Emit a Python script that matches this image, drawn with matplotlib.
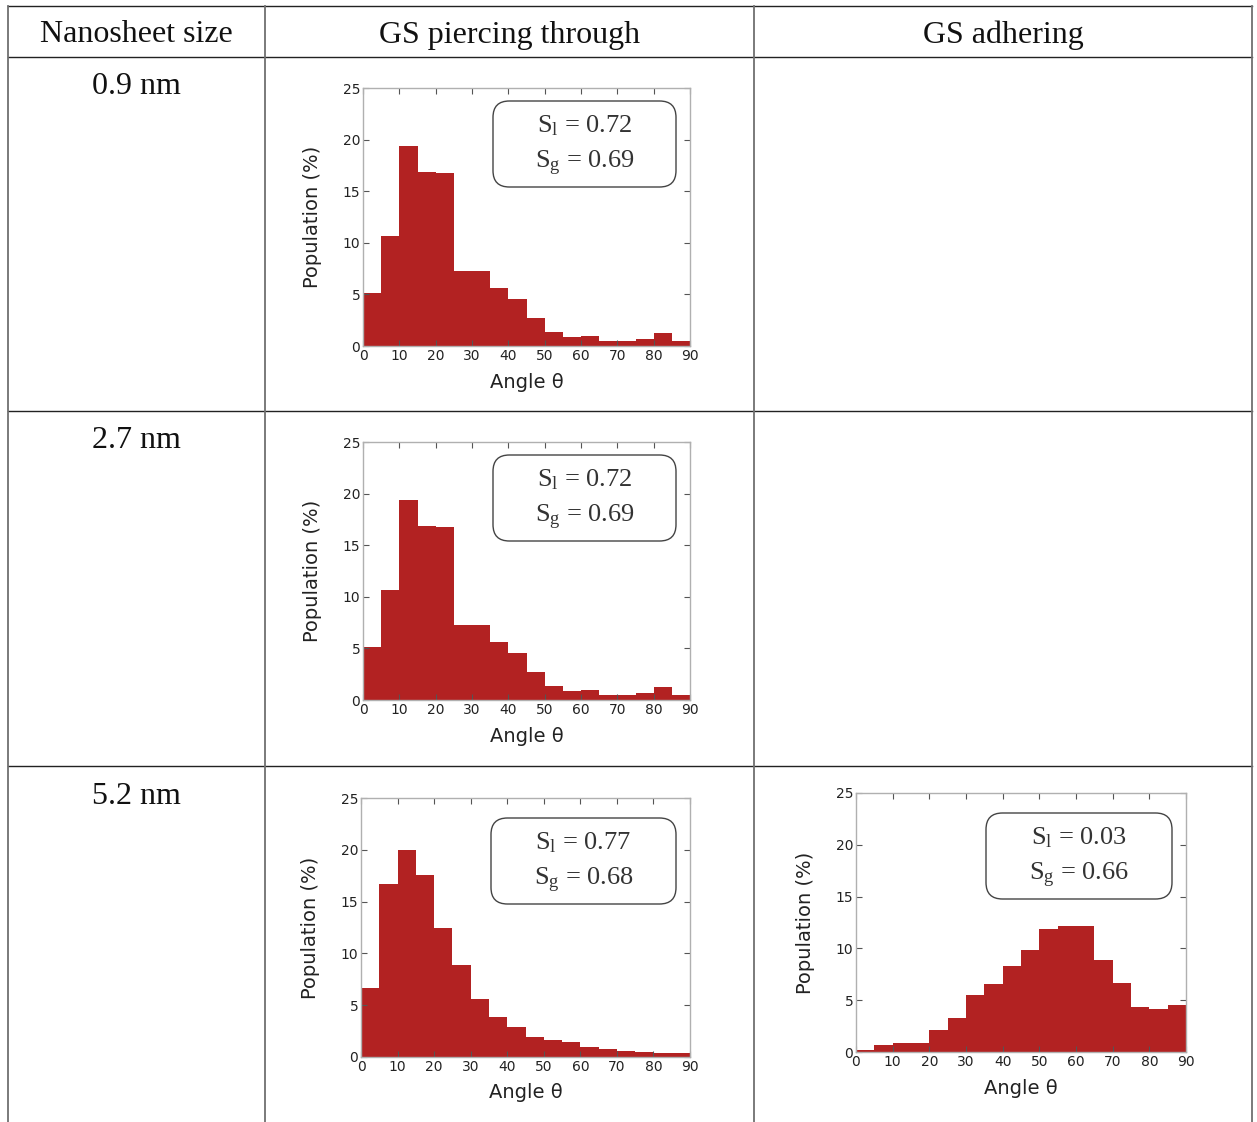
import matplotlib.pyplot as plt
from matplotlib.patches import FancyBboxPatch
from matplotlib.lines import Line2D

# bins of 5 degrees, 0 .. 90
bin_left = [0, 5, 10, 15, 20, 25, 30, 35, 40, 45, 50, 55, 60, 65, 70, 75, 80, 85]

pop_09nm_piercing = [5.1, 10.7, 19.4, 16.9, 16.8, 7.3, 7.3, 5.6, 4.6, 2.7,
                     1.4, 0.85, 0.97, 0.5, 0.5, 0.7, 1.26, 0.5]
pop_27nm_piercing = [5.1, 10.7, 19.4, 16.9, 16.8, 7.3, 7.3, 5.6, 4.6, 2.7,
                     1.4, 0.85, 0.97, 0.5, 0.5, 0.7, 1.26, 0.5]
pop_52nm_piercing = [6.7, 16.7, 20.0, 17.6, 12.5, 8.9, 5.6, 3.9, 2.9, 1.9,
                     1.6, 1.4, 0.93, 0.8, 0.55, 0.45, 0.4, 0.4]
pop_52nm_adhering = [0.16, 0.64, 0.84, 0.9, 2.1, 3.3, 5.5, 6.6, 8.3, 9.8,
                     11.9, 12.15, 12.15, 8.9, 6.7, 4.3, 4.15, 4.5]

s_values = {'09_p': ('0.72', '0.69'), '27_p': ('0.72', '0.69'),
            '52_p': ('0.77', '0.68'), '52_a': ('0.03', '0.66')}

header = ['Nanosheet size', 'GS piercing through', 'GS adhering']
row_labels = ['0.9 nm', '2.7 nm', '5.2 nm']

W, H = 1257, 1122
plt.rcParams['mathtext.fontset'] = 'custom'
plt.rcParams['mathtext.rm'] = 'Liberation Serif'
plt.rcParams['mathtext.it'] = 'Liberation Serif:italic'

fig = plt.figure(figsize=(W / 100, H / 100), dpi=100)

# ---- table lines (pixels) ----
col_x = [8, 265, 754, 1252]
row_y = [6, 57, 411, 766]


def px_line(x0, y0, x1, y1, color, lw):
    fig.add_artist(Line2D([x0 / W, x1 / W], [1 - y0 / H, 1 - y1 / H],
                          transform=fig.transFigure, color=color, lw=lw))


for y in row_y:
    px_line(col_x[0], y, col_x[-1], y, '#222222', 1.0)
for x in col_x:
    px_line(x, row_y[0], x, H, '#707070', 1.3)

serif = 'Liberation Serif'
col_c = [(col_x[i] + col_x[i + 1]) / 2 for i in range(3)]
for c, txt in zip(col_c, header):
    fig.text(c / W, 1 - 35 / H, txt, ha='center', va='center',
             family=serif, fontsize=23, color='#111111')
for i, txt in enumerate(row_labels):
    fig.text(col_c[0] / W, 1 - (86 + 355 * i) / H, txt, ha='center', va='center',
             family=serif, fontsize=23, color='#111111')


def histogram(left, top, right, bottom, values, s_l, s_g, box_top):
    ax = fig.add_axes([left / W, 1 - bottom / H, (right - left) / W, (bottom - top) / H])
    ax.bar(bin_left, values, width=5, align='edge', color='#b22222', linewidth=0)
    ax.set_xlim(0, 90)
    ax.set_ylim(0, 25)
    ax.set_xticks(range(0, 91, 10))
    ax.set_yticks(range(0, 26, 5))
    ax.tick_params(direction='in', top=True, right=True, length=4, width=0.8,
                   color='#555555', labelsize=10, labelcolor='#222222', pad=2)
    for sp in ax.spines.values():
        sp.set_color('#b0b0b0')
        sp.set_linewidth(1.0)
    ax.set_xlabel('Angle θ', fontsize=14, color='#222222', labelpad=7)
    ax.set_ylabel('Population (%)', fontsize=14, color='#222222', labelpad=15)

    aw, ah = right - left, bottom - top
    bx0 = 130 / aw
    bx1 = 1 - 14 / aw
    by1 = 1 - box_top / ah
    by0 = 1 - (box_top + 86) / ah
    box = FancyBboxPatch((bx0, by0), bx1 - bx0, by1 - by0,
                         boxstyle='round,pad=0,rounding_size=0.05',
                         mutation_aspect=aw / ah, transform=ax.transAxes,
                         facecolor='white', edgecolor='#444444', lw=1.0, zorder=5)
    ax.add_patch(box)
    xc = (bx0 + bx1) / 2
    ax.text(xc, 1 - (box_top + 25) / ah, r'S$_\mathrm{l}$ = ' + s_l, transform=ax.transAxes,
            ha='center', va='center', family=serif, fontsize=19, color='#333333', zorder=6)
    ax.text(xc, 1 - (box_top + 62) / ah, r'S$_\mathrm{g}$ = ' + s_g, transform=ax.transAxes,
            ha='center', va='center', family=serif, fontsize=19, color='#333333', zorder=6)
    return ax


histogram(363, 88, 690, 346, pop_09nm_piercing, *s_values['09_p'], box_top=13)
histogram(363, 442, 690, 700, pop_27nm_piercing, *s_values['27_p'], box_top=13)
histogram(361, 798, 690, 1057, pop_52nm_piercing, *s_values['52_p'], box_top=20)
histogram(856, 793, 1186, 1052, pop_52nm_adhering, *s_values['52_a'], box_top=20)

fig.savefig('out.png', dpi=100)
